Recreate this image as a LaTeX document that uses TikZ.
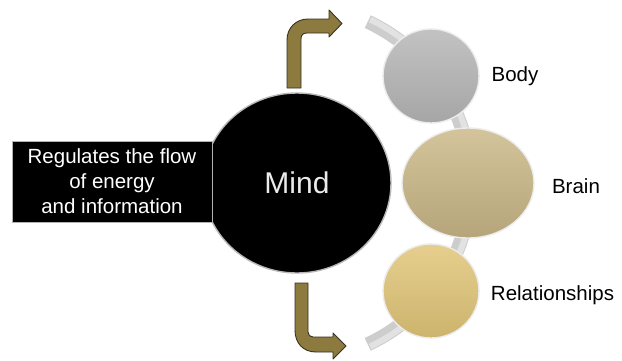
\documentclass[tikz,border=0pt]{standalone}
\usepackage{fontspec}
\setmainfont{Liberation Sans}
\usetikzlibrary{shapes.geometric}
\definecolor{arrowfill}{HTML}{8C7A3E}
\definecolor{arrowline}{HTML}{3A3220}
\definecolor{bodytop}{HTML}{C2C2C2}
\definecolor{bodybot}{HTML}{A6A6A6}
\definecolor{braintop}{HTML}{D3C49B}
\definecolor{brainbot}{HTML}{B6A57A}
\definecolor{reltop}{HTML}{E6CF8E}
\definecolor{relbot}{HTML}{CCB46E}
\definecolor{bandgray}{HTML}{CDCDCD}
\definecolor{bandlight}{HTML}{E2E2E2}
\tikzset{
  sphere/.style={ellipse, inner sep=0pt, draw=white!85!gray, line width=1.4pt},
  bentarrow/.style={fill=arrowfill, draw=arrowline, line width=0.9pt, line join=round},
  lbl/.style={font=\fontsize{20.5}{25}\selectfont, text=black},
}
\begin{document}
\begin{tikzpicture}[x=1pt,y=-1pt]
\useasboundingbox (0,0) rectangle (622,360);
\fill[white] (0,0) rectangle (622,360);
% grey connecting band
\draw[bandgray, line width=14pt] (292.5,183) ++(65:178) arc[start angle=65, end angle=-65, radius=178];
\draw[bandlight, line width=6pt] (292.5,183) ++(64.6:181) arc[start angle=64.6, end angle=-64.6, radius=181];
% bent arrows
\draw[bentarrow] (287,88) -- (287,40) .. controls (287,28) and (296,19) .. (308,19) -- (329,19) -- (329,10) -- (342,23.5) -- (329,37) -- (329,33) -- (307,33) .. controls (303,33) and (301,35) .. (301,39) -- (301,88) -- cycle;
\draw[bentarrow] (295,283) -- (295,330) .. controls (295,343) and (303,352) .. (316,352) -- (333,352) -- (333,359) -- (346,346) -- (333,333) -- (333,337) -- (313,337) .. controls (310,337) and (308,335) .. (308,332) -- (308,283) -- cycle;
% spheres
\node[sphere, minimum width=96pt, minimum height=94pt, top color=bodytop, bottom color=bodybot] (body) at (431,76) {};
\node[sphere, minimum width=132pt, minimum height=110pt, top color=braintop, bottom color=brainbot] (brain) at (468,183) {};
\node[sphere, minimum width=96pt, minimum height=94pt, top color=reltop, bottom color=relbot] (rel) at (431,291) {};
\node[ellipse, inner sep=0pt, minimum width=188pt, minimum height=180pt, fill=black, draw=gray!55, line width=1.4pt, text=white!92!black, font=\fontsize{30}{36}\selectfont] (mind) at (297,183) {Mind};
% description box
\node[rectangle, fill=black, draw=gray!60, line width=1pt, minimum width=200pt, minimum height=81pt, inner sep=2pt, align=center, text=white, font=\fontsize{20.5}{25}\selectfont] (desc) at (112,181.5) {Regulates the flow\\of energy\\and information};
% labels
\node[lbl] (lbody) at (515,76) {Body};
\node[lbl] (lbrain) at (576,186) {Brain};
\node[lbl] (lrel) at (552.5,295) {Relationships};
\end{tikzpicture}
\end{document}
